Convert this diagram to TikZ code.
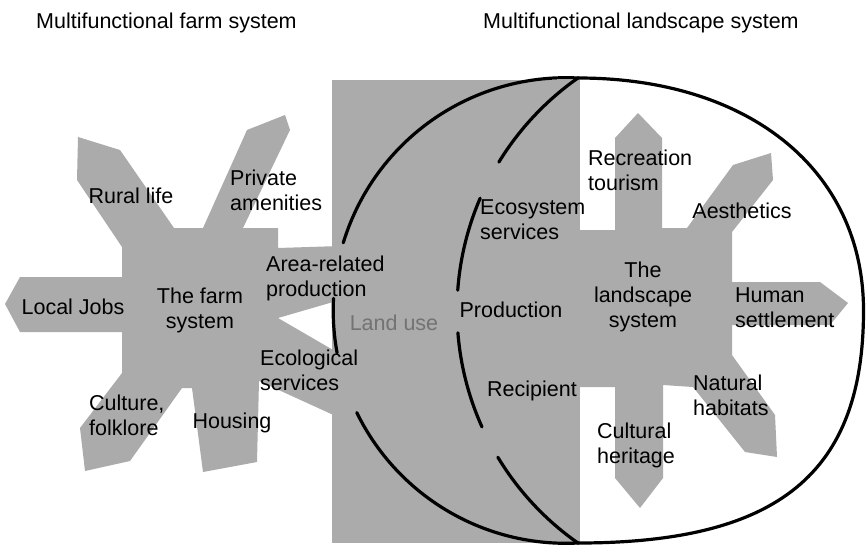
\documentclass[tikz,border=0pt]{standalone}
\usepackage{fontspec}
\setmainfont{Liberation Sans}
\begin{document}
\begin{tikzpicture}[x=1pt,y=-1pt,
  shade/.style={fill=black!33, draw=none},
  rim/.style={line width=3.2pt, line cap=round, line join=round},
  lbl/.style={inner sep=0pt, font=\fontsize{21.5}{25}\selectfont},
  ttl/.style={inner sep=0pt, font=\fontsize{21.5}{25}\selectfont},
]
\useasboundingbox (0,0) rectangle (866,546);

% land use rectangle
\fill[shade] (332,80) rectangle (580,543);

% farm system star
\fill[shade] (203,228) -- (247,130) -- (285,115) -- (290,130) -- (243,228)
  -- (278,228) -- (278,248) -- (340,246) -- (340,300) -- (278,318)
  -- (340,354) -- (340,418) -- (259,381) -- (257,462) -- (203,472)
  -- (192,388) -- (182,388) -- (130,461) -- (85,471) -- (80,428)
  -- (122,373) -- (122,332) -- (20,332) -- (5,304) -- (20,277)
  -- (122,277) -- (122,247) -- (77,180) -- (78,137) -- (120,150)
  -- (174,228) -- cycle;

% landscape system star
\fill[shade] (572,230) -- (615,230) -- (615,138) -- (638,113) -- (662,138)
  -- (662,228) -- (687,228) -- (733,165) -- (771,153) -- (773,180)
  -- (732,232) -- (732,282) -- (820,282) -- (848,303) -- (830,325)
  -- (732,325) -- (732,355) -- (775,415) -- (777,457) -- (745,452)
  -- (693,387) -- (663,385) -- (663,478) -- (640,508) -- (615,478)
  -- (615,387) -- (572,387) -- cycle;

% outer left arc (circle centre 566,310.5 r 232.8)
\draw[rim] plot[domain=196.9:273, samples=60] ({566+232.8*cos(\x)},{310.5+232.8*sin(\x)});
\draw[rim] plot[domain=169.5:183, samples=12] ({566+232.8*cos(\x)},{310.5+232.8*sin(\x)});
\draw[rim] plot[domain=87:154, samples=60] ({566+232.8*cos(\x)},{310.5+232.8*sin(\x)});

% inner arc (circle centre 741,310.5 r 284)
\draw[rim] plot[domain=211.5:235, samples=25] ({741+284*cos(\x)},{310.5+284*sin(\x)});
\draw[rim] plot[domain=184.1:203.3, samples=20] ({741+284*cos(\x)},{310.5+284*sin(\x)});
\draw[rim] plot[domain=155.8:175.5, samples=20] ({741+284*cos(\x)},{310.5+284*sin(\x)});
\draw[rim] plot[domain=125:148.9, samples=25] ({741+284*cos(\x)},{310.5+284*sin(\x)});

% right half of the landscape ellipse
\draw[rim] (578,78) .. controls (750,78) and (863.5,170.8) .. (863.5,310.5)
  .. controls (863.5,473) and (779,543) .. (578,543);

% titles
\node[ttl, anchor=base west] (t1) at (36,28) {Multifunctional farm system};
\node[ttl, anchor=base west] (t2) at (483,28) {Multifunctional landscape system};

% farm labels
\node[lbl, anchor=base] (rural) at (131,203) {Rural life};
\node[lbl, anchor=west, align=left] (priv) at (230,192.5) {\strut Private\\\strut amenities};
\node[lbl, anchor=west, align=left] (area) at (266,278.5) {\strut Area-related\\\strut production};
\node[lbl, align=center] (farm) at (200,310.5) {\strut The farm\\\strut system};
\node[lbl, anchor=base] (jobs) at (73,314) {Local Jobs};
\node[lbl, anchor=west, align=left] (cult) at (89,417.5) {\strut Culture,\\\strut folklore};
\node[lbl, anchor=base] (hous) at (232,428) {Housing};
\node[lbl, anchor=west, align=left] (eco) at (260,372.5) {\strut Ecological\\\strut services};

% land use labels
\node[lbl, anchor=base, text=black!55] (land) at (394,330) {Land use};
\node[lbl, anchor=west, align=left] (ecos) at (480,221.5) {\strut Ecosystem\\\strut services};
\node[lbl, anchor=base] (prod) at (511,317) {Production};
\node[lbl, anchor=base] (reci) at (532,396) {Recipient};

% landscape labels
\node[lbl, anchor=west, align=left] (recr) at (588,172.5) {\strut Recreation\\\strut tourism};
\node[lbl, anchor=base] (aest) at (742,218) {Aesthetics};
\node[lbl, align=center] (land2) at (643,297) {\strut The\\\strut landscape\\\strut system};
\node[lbl, anchor=west, align=left] (hum) at (735,309.5) {\strut Human\\\strut settlement};
\node[lbl, anchor=west, align=left] (nat) at (693,397.5) {\strut Natural\\\strut habitats};
\node[lbl, anchor=west, align=left] (cher) at (597,445.5) {\strut Cultural\\\strut heritage};
\end{tikzpicture}
\end{document}
